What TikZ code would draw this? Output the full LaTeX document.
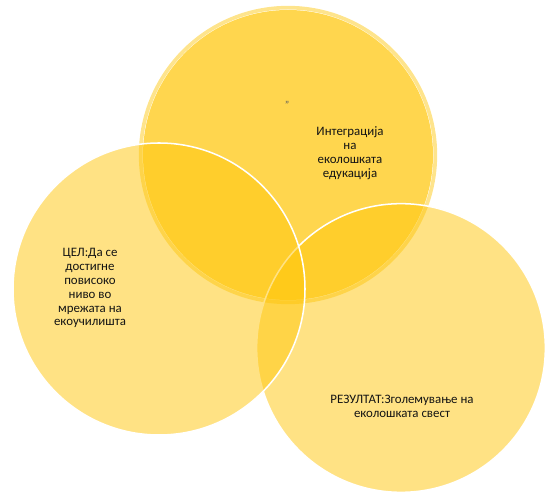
\documentclass[tikz,border=0pt]{standalone}
\usepackage{fontspec}
\setmainfont{Carlito}
\usetikzlibrary{calc}
\definecolor{vennGold}{RGB}{255,198,10}
\definecolor{vennHalo}{RGB}{254,228,140}
\definecolor{textDark}{RGB}{20,20,20}

\begin{document}
\begin{tikzpicture}
\useasboundingbox (-8.175,-7.38) rectangle (8.175,7.38);
% three circles, top one first
\draw[vennHalo,line width=0.11cm] (0.465,2.73) circle (4.42);
\fill[vennGold,fill opacity=0.72] (0.465,2.73) circle (4.35);
\filldraw[fill=vennGold,fill opacity=0.5,draw=white,draw opacity=1,line width=1.3pt] (3.855,-3.06) circle (4.33);
\filldraw[fill=vennGold,fill opacity=0.5,draw=white,draw opacity=1,line width=1.3pt] (-3.405,-1.29) circle (4.38);
\node[font=\fontsize{9}{10}\selectfont,text=textDark!70] (guill) at (0.435,4.29) {„};
\node[font=\fontsize{11}{11.9}\selectfont,text=textDark,align=center] (integr) at (2.325,2.79) {Интеграција\\ на\\ еколошката\\ едукација};
\node[font=\fontsize{11}{11.9}\selectfont,text=textDark,align=center] (cel) at (-5.475,-1.26) {ЦЕЛ:Да се\\ достигне\\ повисоко\\ ниво во\\ мрежата на\\ екоучилишта};
\node[font=\fontsize{11}{11.9}\selectfont,text=textDark,align=center] (rezultat) at (3.885,-4.815) {РЕЗУЛТАТ:Зголемување на\\ еколошката свест};
\end{tikzpicture}
\end{document}
